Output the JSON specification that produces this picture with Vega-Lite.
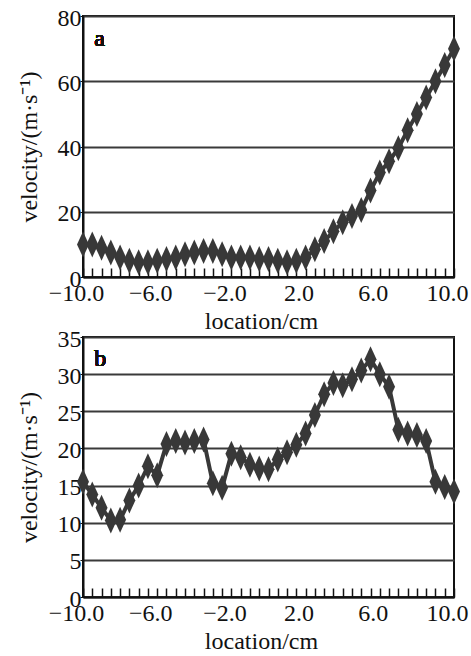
{
  "$schema": "https://vega.github.io/schema/vega-lite/v6.json",
  "autosize": {"type": "pad"},
  "padding": {"left": 16, "top": 5, "right": 0, "bottom": 0},
  "bounds": "flush",
  "spacing": 60,
  "background": "white",
  "config": {
    "view": {"stroke": "#111", "strokeWidth": 2},
    "font": "Liberation Serif",
    "axis": {
      "labelFont": "Liberation Serif", "titleFont": "Liberation Serif",
      "labelFontSize": 24, "titleFontSize": 24, "titleFontWeight": "normal",
      "labelColor": "#111", "titleColor": "#111",
      "domainColor": "#111", "domainWidth": 2, "tickColor": "#111",
      "labelFlush": false, "labelOverlap": false
    },
    "axisX": {"grid": false},
    "axisY": {"grid": true, "gridColor": "#3a3a3a", "gridWidth": 2, "gridOpacity": 1}
  },
  "datasets": {
    "a": [
      {"location": -10, "velocity": 10}, {"location": -9.5, "velocity": 10}, {"location": -9, "velocity": 9},
      {"location": -8.5, "velocity": 7.5}, {"location": -8, "velocity": 6}, {"location": -7.5, "velocity": 5},
      {"location": -7, "velocity": 4.5}, {"location": -6.5, "velocity": 4.5}, {"location": -6, "velocity": 5},
      {"location": -5.5, "velocity": 5.5}, {"location": -5, "velocity": 6}, {"location": -4.5, "velocity": 7},
      {"location": -4, "velocity": 7.5}, {"location": -3.5, "velocity": 8}, {"location": -3, "velocity": 8},
      {"location": -2.5, "velocity": 7}, {"location": -2, "velocity": 6}, {"location": -1.5, "velocity": 6},
      {"location": -1, "velocity": 6}, {"location": -0.5, "velocity": 5.5}, {"location": 0, "velocity": 5.5},
      {"location": 0.5, "velocity": 5}, {"location": 1, "velocity": 4.5}, {"location": 1.5, "velocity": 5},
      {"location": 2, "velocity": 6}, {"location": 2.5, "velocity": 8.5}, {"location": 3, "velocity": 11},
      {"location": 3.5, "velocity": 14}, {"location": 4, "velocity": 16.8}, {"location": 4.5, "velocity": 18.7},
      {"location": 5, "velocity": 20.5}, {"location": 5.5, "velocity": 26.5}, {"location": 6, "velocity": 32},
      {"location": 6.5, "velocity": 35.5}, {"location": 7, "velocity": 39.5}, {"location": 7.5, "velocity": 45},
      {"location": 8, "velocity": 50}, {"location": 8.5, "velocity": 55}, {"location": 9, "velocity": 60},
      {"location": 9.5, "velocity": 65}, {"location": 10, "velocity": 70}
    ],
    "b": [
      {"location": -10, "velocity": 15.5}, {"location": -9.5, "velocity": 13.8}, {"location": -9, "velocity": 12},
      {"location": -8.5, "velocity": 10.3}, {"location": -8, "velocity": 10.4}, {"location": -7.5, "velocity": 13},
      {"location": -7, "velocity": 15}, {"location": -6.5, "velocity": 17.6}, {"location": -6, "velocity": 16.4},
      {"location": -5.5, "velocity": 20.6}, {"location": -5, "velocity": 21}, {"location": -4.5, "velocity": 20.8},
      {"location": -4, "velocity": 21}, {"location": -3.5, "velocity": 21.2}, {"location": -3, "velocity": 15.3},
      {"location": -2.5, "velocity": 14.7}, {"location": -2, "velocity": 19.3}, {"location": -1.5, "velocity": 18.8},
      {"location": -1, "velocity": 17.8}, {"location": -0.5, "velocity": 17.3}, {"location": 0, "velocity": 17.2},
      {"location": 0.5, "velocity": 18.5}, {"location": 1, "velocity": 19.5}, {"location": 1.5, "velocity": 20.5},
      {"location": 2, "velocity": 22}, {"location": 2.5, "velocity": 24.5}, {"location": 3, "velocity": 27.3},
      {"location": 3.5, "velocity": 28.8}, {"location": 4, "velocity": 28.5}, {"location": 4.5, "velocity": 29.3},
      {"location": 5, "velocity": 30.5}, {"location": 5.5, "velocity": 32}, {"location": 6, "velocity": 30},
      {"location": 6.5, "velocity": 28.3}, {"location": 7, "velocity": 22.5}, {"location": 7.5, "velocity": 22},
      {"location": 8, "velocity": 21.8}, {"location": 8.5, "velocity": 21}, {"location": 9, "velocity": 15.5},
      {"location": 9.5, "velocity": 14.8}, {"location": 10, "velocity": 14.2}
    ]
  },
  "vconcat": [
    {
      "width": 371, "height": 261,
      "data": {"name": "a"},
      "encoding": {
        "x": {"field": "location", "type": "quantitative",
          "scale": {"domain": [-10, 10], "nice": false, "zero": false},
          "axis": {"title": "location/cm",
            "values": [-10,-9.5,-9,-8.5,-8,-7.5,-7,-6.5,-6,-5.5,-5,-4.5,-4,-3.5,-3,-2.5,-2,-1.5,-1,-0.5,0,0.5,1,1.5,2,2.5,3,3.5,4,4.5,5,5.5,6,6.5,7,7.5,8,8.5,9,9.5,10],
            "labelExpr": "indexof([-10,-6,-2,2,6,10], datum.value) >= 0 ? format(datum.value, '.1f') : ''",
            "tickSize": -9, "tickWidth": 1.5, "labelPadding": 13, "labelOffset": -7, "titlePadding": 4, "titleX": 178}},
        "y": {"field": "velocity", "type": "quantitative",
          "scale": {"domain": [0, 80], "nice": false},
          "axis": {"title": "velocity/(m·s⁻¹)", "values": [0, 20, 40, 60, 80], "tickSize": 3, "labelPadding": -1, "labelOffset": 2, "titlePadding": 16}}
      },
      "layer": [
        {"mark": {"type": "line", "color": "#383838", "strokeWidth": 4}},
        {"mark": {"type": "point", "shape": "M0,-1L0.46,0L0,1L-0.46,0Z", "filled": true, "size": 676, "color": "#383838", "opacity": 1}},
        {"mark": {"type": "text", "fontSize": 24, "font": "Liberation Serif", "fontWeight": "normal", "align": "left", "baseline": "middle", "color": "#111"},
          "encoding": {"x": {"datum": -9.4, "type": "quantitative"}, "y": {"datum": 73, "type": "quantitative"}, "text": {"value": "a"}}}
      ]
    },
    {
      "width": 371, "height": 260,
      "data": {"name": "b"},
      "encoding": {
        "x": {"field": "location", "type": "quantitative",
          "scale": {"domain": [-10, 10], "nice": false, "zero": false},
          "axis": {"title": "location/cm",
            "values": [-10,-9.5,-9,-8.5,-8,-7.5,-7,-6.5,-6,-5.5,-5,-4.5,-4,-3.5,-3,-2.5,-2,-1.5,-1,-0.5,0,0.5,1,1.5,2,2.5,3,3.5,4,4.5,5,5.5,6,6.5,7,7.5,8,8.5,9,9.5,10],
            "labelExpr": "indexof([-10,-6,-2,2,6,10], datum.value) >= 0 ? format(datum.value, '.1f') : ''",
            "tickSize": -9, "tickWidth": 1.5, "labelPadding": 13, "labelOffset": -7, "titlePadding": 4, "titleX": 178}},
        "y": {"field": "velocity", "type": "quantitative",
          "scale": {"domain": [0, 35], "nice": false},
          "axis": {"title": "velocity/(m·s⁻¹)", "values": [0, 5, 10, 15, 20, 25, 30, 35], "tickSize": 3, "labelPadding": -1, "labelOffset": 2, "titlePadding": 16}}
      },
      "layer": [
        {"mark": {"type": "line", "color": "#383838", "strokeWidth": 4}},
        {"mark": {"type": "point", "shape": "M0,-1L0.46,0L0,1L-0.46,0Z", "filled": true, "size": 676, "color": "#383838", "opacity": 1}},
        {"mark": {"type": "text", "fontSize": 24, "font": "Liberation Serif", "fontWeight": "normal", "align": "left", "baseline": "middle", "color": "#111"},
          "encoding": {"x": {"datum": -9.4, "type": "quantitative"}, "y": {"datum": 32, "type": "quantitative"}, "text": {"value": "b"}}}
      ]
    }
  ]
}
